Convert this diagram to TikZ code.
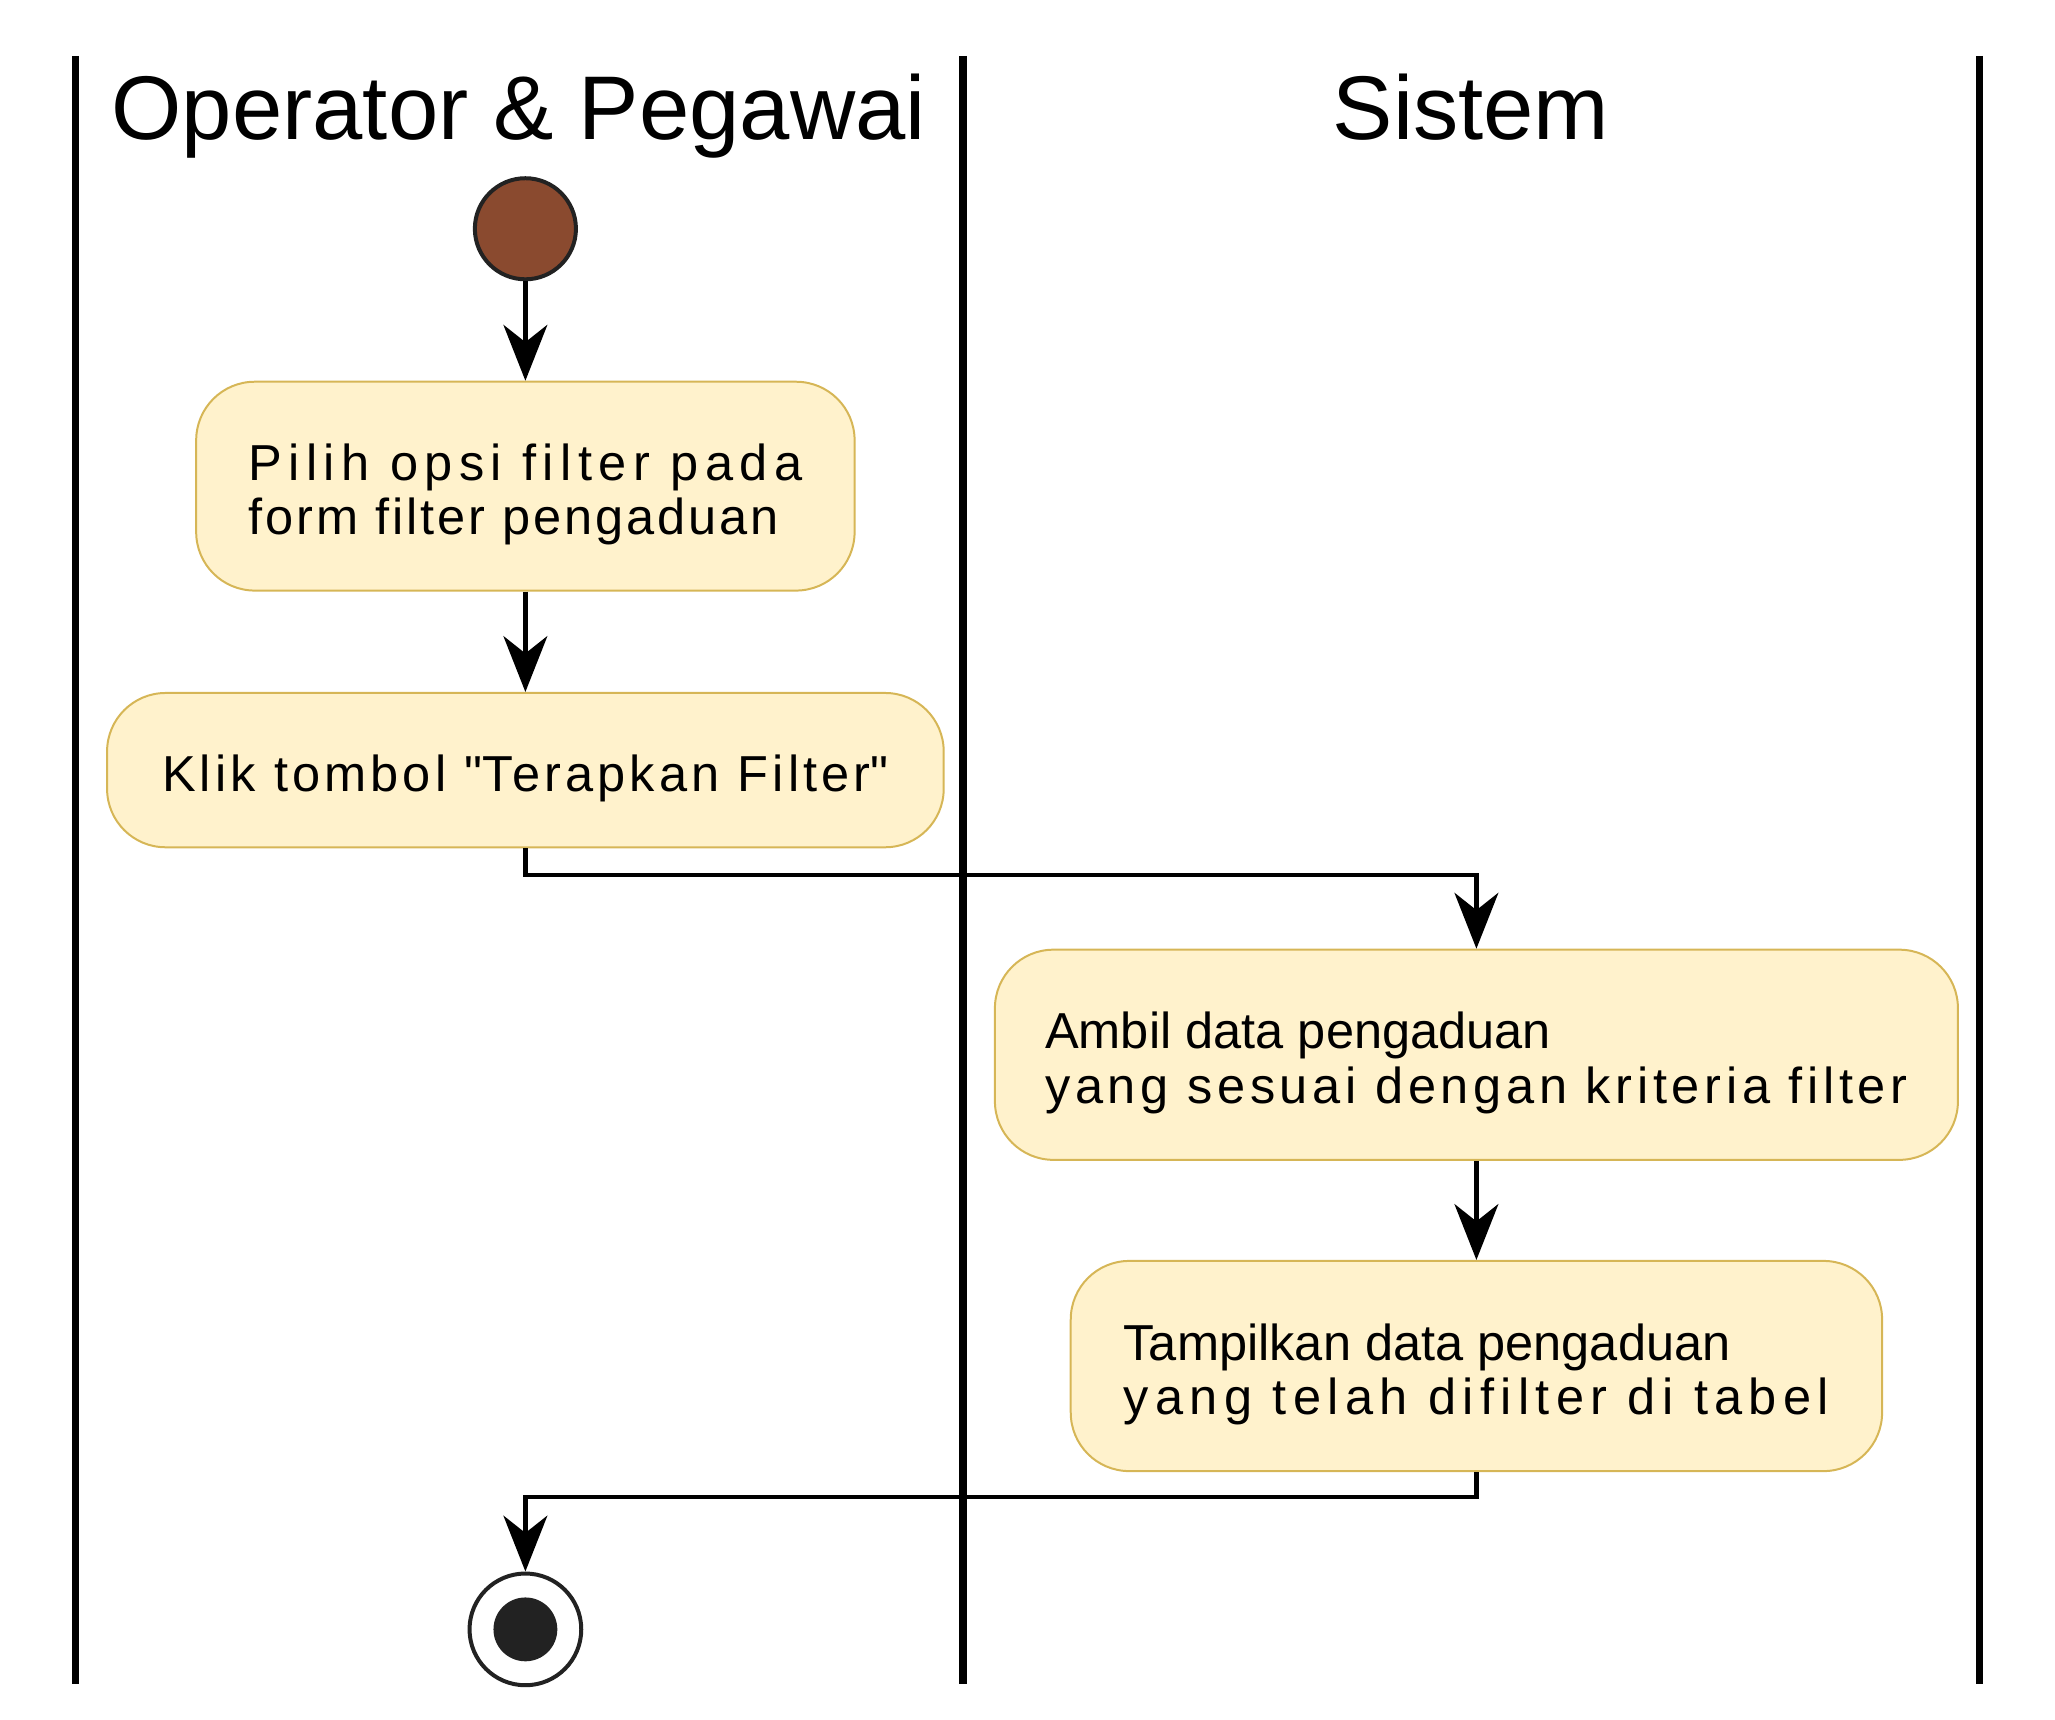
\documentclass[tikz,border=0pt]{standalone}
\usepackage{fontspec}
\setmainfont{Liberation Sans}
\usepackage{tikz}
\usetikzlibrary{arrows.meta}

\definecolor{actfill}{HTML}{FFF2CC}
\definecolor{actline}{HTML}{D6B656}
\definecolor{startfill}{HTML}{8A4A2F}
\definecolor{dotcol}{HTML}{222222}
\newcommand{\trk}[2]{{\addfontfeatures{LetterSpace=#1}#2}}
\newcommand{\actstrut}{\rule{0pt}{20pt}}

\begin{document}
\begin{tikzpicture}[x=0.5pt,y=-0.5pt,
		act/.style={draw=actline,line width=0.75pt,fill=actfill,rounded corners=22pt,align=left,inner sep=0pt,font=\fontsize{19}{20.5}\selectfont},
		flow/.style={line width=1.6pt,-{Stealth[length=21pt,width=16.5pt,inset=6.5pt]}},
		lane/.style={line width=2.7pt},
		title/.style={anchor=base,font=\fontsize{34}{40}\selectfont}]
		\useasboundingbox (0,0) rectangle (1545,1293);
		% swimlanes
		\foreach \x in {57,724,1488}
		\draw[lane] (\x,42) -- (\x,1266);
		\node[title] (opTitle) at (390,105) {Operator \& Pegawai};
		\node[title] (sysTitle) at (1106,105) {Sistem};

		\node[circle,draw=dotcol,fill=startfill,line width=1.5pt,minimum size=38pt,inner sep=0pt] (start) at (395,172) {};
		\node[act,minimum width=247.5pt,minimum height=78.5pt] (pilih) at (395,365.5) {\actstrut\trk{12.7}{Pilih opsi filter pada}\\\trk{5.8}{form filter pengaduan}};
		\node[act,minimum width=314.5pt,minimum height=58pt] (klik) at (395,579) {\actstrut\trk{8.2}{Klik tombol \textquotedbl Terapkan Filter\textquotedbl}};
		\node[act,minimum width=362pt,minimum height=79pt] (ambil) at (1110,793) {\actstrut Ambil data pengaduan\\\trk{9.2}{yang sesuai dengan kriteria filter}};
		\node[act,minimum width=305pt,minimum height=79pt] (tampil) at (1110,1027) {\actstrut Tampilkan data pengaduan\\\trk{12.6}{yang telah difilter di tabel}};
		\node[circle,draw=dotcol,fill=white,line width=1.5pt,minimum size=42pt,inner sep=0pt] (stop) at (395,1225) {};
		\node[circle,fill=dotcol,minimum size=24pt,inner sep=0pt] (stopDot) at (stop.center) {};

		\draw[flow] (start) -- (pilih);
		\draw[flow] (pilih) -- (klik);
		\draw[flow] (klik.south) -- ++(0,20) -| (ambil.north);
		\draw[flow] (ambil) -- (tampil);
		\draw[flow] (tampil.south) -- ++(0,19) -| (stop.north);
\end{tikzpicture}
\end{document}
